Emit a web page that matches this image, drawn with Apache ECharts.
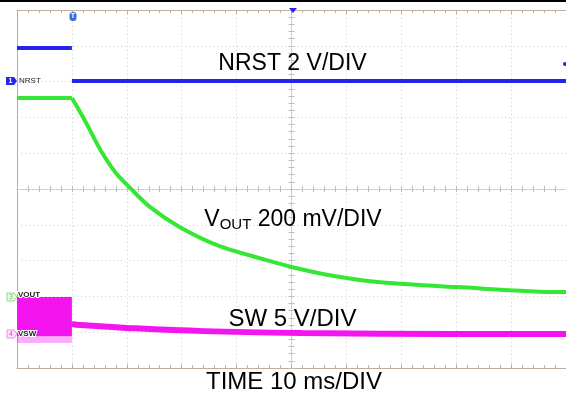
<!DOCTYPE html>
<html><head><meta charset="utf-8">
<script src="https://cdn.jsdelivr.net/npm/echarts@6/dist/echarts.min.js"></script>
<style>html,body{margin:0;padding:0;background:#fff}#c{width:566px;height:395px}</style>
</head><body><div id="c"></div>
<script>
// time axis in ms (10 ms/div), 0 = screen centre; vertical axis in divisions
const timeMin = -50, timeMax = 50, timeStep = 10;
const divMin = -5, divMax = 5, divStep = 1;

// NRST (channel 1)
const nrstHighT = [-50, -40];
const nrstHighV = [3.94, 3.94];
const nrstLowT = [-40, 50];
const nrstLowV = [3.02, 3.02];

// VOUT (channel 3)
const voutFlatT = [-50, -40];
const voutFlatV = [2.54, 2.54];
const voutDecayT = [-40, -38.4, -36.9, -34.8, -32.1, -29.4, -25.8, -20.4, -13.2, -4.7, 0, 6.7, 15.7, 30.1, 49.2, 50];
const voutDecayV = [2.54, 2.12, 1.70, 1.09, 0.47, 0.03, -0.50, -1.06, -1.59, -1.98, -2.18, -2.40, -2.60, -2.74, -2.88, -2.88];

// VSW (channel 4)
const swT = [-40, -38.5, -30, -16, 2, 30, 50];
const swV = [-3.77, -3.80, -3.88, -3.97, -4.02, -4.05, -4.05];
const swBandT = [-50, -40];
const swBandV = [-3.02, -4.11, -4.30]; // top, solid bottom, faded bottom

const zip = (a, b) => a.map((v, i) => [v, b[i]]);

const FONT = '"Liberation Sans", Arial, sans-serif';
const frameColor = '#bfae9c';
const gridColor = '#cfcfcf';
const blue = '#2424ee', green = '#35e635', magenta = '#f414f0';

const chart = echarts.init(document.getElementById('c'), null, {renderer: 'canvas'});

const baseX = {type: 'value', min: timeMin, max: timeMax, interval: timeStep, axisLabel: {show: false}};
const baseY = {type: 'value', min: divMin, max: divMax, interval: divStep, axisLabel: {show: false}};

const centreAxisLine = {lineStyle: {color: '#c4c4c4', type: [1, 2]}};
const centreTick = (inside) => ({show: true, inside: inside, length: 3, lineStyle: {color: '#bdbdbd'}});
const centreMinor = {show: true, splitNumber: 5, length: 3, lineStyle: {color: '#bdbdbd'}};

const TXT = (x, y, text, font, fill, align, extra) => ({
  type: 'text', x: x, y: y, z: 100,
  style: Object.assign({text: text, font: font, fill: fill, align: align, verticalAlign: 'middle', textAlign: align, textVerticalAlign: 'middle'}, extra || {})
});

const option = {
  animation: false,
  backgroundColor: '#fff',
  grid: {left: 17, top: 10, width: 555, height: 358, containLabel: false},
  xAxis: [
    Object.assign({}, baseX, {position: 'bottom',
      axisLine: {onZero: false, lineStyle: {color: frameColor, width: 1}},
      axisTick: {show: true, inside: true, length: 4, lineStyle: {color: frameColor}},
      minorTick: {show: true, splitNumber: 5, length: 3, lineStyle: {color: frameColor}},
      splitLine: {show: true, lineStyle: {color: gridColor, type: [1, 3]}}}),
    Object.assign({}, baseX, {position: 'top',
      axisLine: {onZero: false, lineStyle: {color: frameColor, width: 1}},
      axisTick: {show: true, inside: true, length: 4, lineStyle: {color: frameColor}},
      minorTick: {show: true, splitNumber: 5, length: 3, lineStyle: {color: frameColor}},
      splitLine: {show: false}}),
    Object.assign({}, baseX, {position: 'bottom',
      axisLine: Object.assign({onZero: true}, centreAxisLine),
      axisTick: centreTick(true), minorTick: centreMinor, splitLine: {show: false}}),
    Object.assign({}, baseX, {position: 'bottom',
      axisLine: Object.assign({onZero: true}, centreAxisLine),
      axisTick: centreTick(false), minorTick: centreMinor, splitLine: {show: false}})
  ],
  yAxis: [
    Object.assign({}, baseY, {position: 'left',
      axisLine: {show: true, onZero: false, lineStyle: {color: '#b5aca4', width: 1}},
      axisTick: {show: false},
      splitLine: {show: true, lineStyle: {color: gridColor, type: [1, 3]}}}),
    Object.assign({}, baseY, {position: 'left',
      axisLine: Object.assign({show: true, onZero: true}, centreAxisLine),
      axisTick: centreTick(true), minorTick: centreMinor, splitLine: {show: false}}),
    Object.assign({}, baseY, {position: 'left',
      axisLine: Object.assign({show: true, onZero: true}, centreAxisLine),
      axisTick: centreTick(false), minorTick: centreMinor, splitLine: {show: false}})
  ],
  series: [
    {type: 'line', name: 'VSW band', data: zip(swBandT, [swBandV[0], swBandV[0]]), symbol: 'none',
      lineStyle: {width: 0}, silent: true,
      markArea: {silent: true, data: [
        [{xAxis: swBandT[0], yAxis: swBandV[0], itemStyle: {color: magenta, opacity: 1}}, {xAxis: swBandT[1], yAxis: swBandV[1]}],
        [{xAxis: swBandT[0], yAxis: swBandV[1], itemStyle: {color: magenta, opacity: 0.35}}, {xAxis: swBandT[1], yAxis: swBandV[2]}]
      ]}},
    {type: 'line', name: 'VSW', data: zip(swT, swV), symbol: 'none', smooth: 0.4,
      lineStyle: {color: magenta, width: 6}},
    {type: 'line', name: 'NRST hi', data: zip(nrstHighT, nrstHighV), symbol: 'none',
      lineStyle: {color: blue, width: 4}},
    {type: 'line', name: 'NRST lo', data: zip(nrstLowT, nrstLowV), symbol: 'none',
      lineStyle: {color: blue, width: 4}},
    {type: 'line', name: 'VOUT flat', data: zip(voutFlatT, voutFlatV), symbol: 'none',
      lineStyle: {color: green, width: 4}},
    {type: 'line', name: 'VOUT', data: zip(voutDecayT, voutDecayV), symbol: 'none', smooth: 0.3,
      lineStyle: {color: green, width: 4}}
  ],
  graphic: [
    {type: 'rect', z: 100, shape: {x: 0, y: 0, width: 566, height: 2}, style: {fill: '#000'}},
    // trigger markers
    {type: 'polygon', z: 100, shape: {points: [[289, 8], [297, 8], [293, 13]]}, style: {fill: blue}},
    {type: 'rect', z: 100, shape: {x: 69.5, y: 12, width: 7, height: 9, r: 3}, style: {fill: '#3a6fd8'}},
    TXT(73, 16.5, 'T', 'bold 7px ' + FONT, '#fff', 'center'),
    {type: 'circle', z: 100, shape: {cx: 565, cy: 64, r: 2}, style: {fill: blue}},
    // channel 1 marker
    {type: 'polygon', z: 100, shape: {points: [[6, 77], [14, 77], [17, 81], [14, 85], [6, 85]]}, style: {fill: blue}},
    TXT(10.5, 81, '1', 'bold 7px ' + FONT, '#fff', 'center'),
    TXT(19, 81, 'NRST', '8px ' + FONT, '#222', 'left'),
    // channel 3 marker
    {type: 'polygon', z: 100, shape: {points: [[7, 293], [14, 293], [17, 297], [14, 301], [7, 301]]}, style: {fill: '#eaffea', stroke: '#8ad88a', lineWidth: 1}},
    TXT(11, 297, '3', '7px ' + FONT, '#5bbf5b', 'center'),
    TXT(18, 295, 'VOUT', 'bold 8px ' + FONT, '#222', 'left', {stroke: '#fff', lineWidth: 2}),
    // channel 4 marker
    {type: 'polygon', z: 100, shape: {points: [[7, 330], [14, 330], [17, 334], [14, 338], [7, 338]]}, style: {fill: '#ffe8ff', stroke: '#e88ae8', lineWidth: 1}},
    TXT(11, 334, '4', '7px ' + FONT, '#d040d0', 'center'),
    TXT(18, 334, 'VSW', 'bold 8px ' + FONT, '#222', 'left', {stroke: '#fff', lineWidth: 2}),
    // big annotations
    TXT(292.5, 63.5, 'NRST 2 V/DIV', '23px ' + FONT, '#000', 'center'),
    {type: 'text', x: 293, y: 220, z: 100, style: {text: '{v|V}{s|OUT}{v| 200 mV/DIV}', align: 'center', verticalAlign: 'middle', textAlign: 'center', textVerticalAlign: 'middle',
      rich: {v: {fontSize: 23, fontFamily: FONT, fill: '#000', color: '#000', lineHeight: 24},
             s: {fontSize: 15, fontFamily: FONT, fill: '#000', color: '#000', lineHeight: 15, verticalAlign: 'bottom'}}}},
    TXT(292.5, 319, 'SW 5 V/DIV', '24px ' + FONT, '#000', 'center'),
    TXT(294, 382, 'TIME 10 ms/DIV', '24px ' + FONT, '#000', 'center')
  ]
};
chart.setOption(option);
</script>
</body></html>
